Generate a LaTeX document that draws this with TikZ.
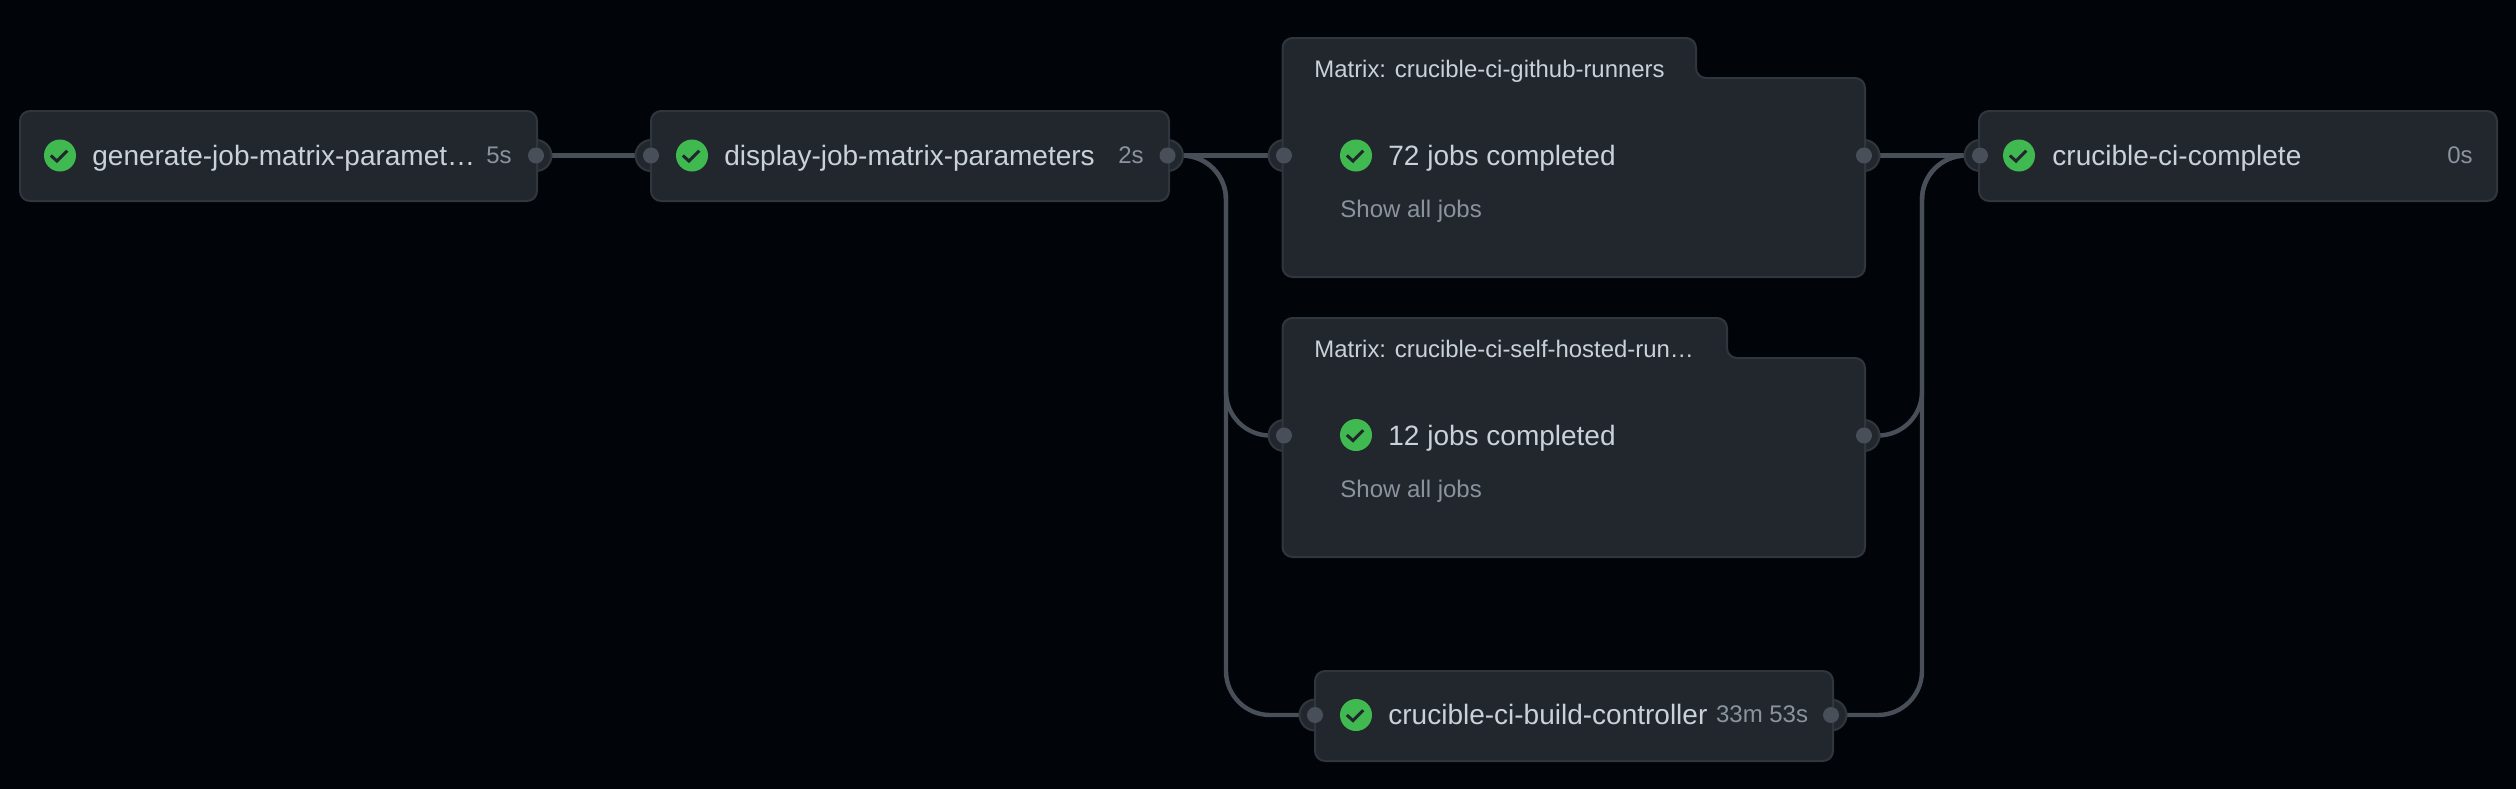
\documentclass[tikz,border=0pt]{standalone}
\usepackage{fontspec}
\setmainfont{Liberation Sans}
\definecolor{pagebg}{HTML}{010409}
\definecolor{cardbg}{HTML}{22272E}
\definecolor{cardline}{HTML}{30363D}
\definecolor{wirecol}{HTML}{484F58}
\definecolor{okgreen}{HTML}{3FB950}
\definecolor{maintext}{HTML}{C9D1D9}
\definecolor{mutedtext}{HTML}{8B949E}
\pgfdeclarelayer{bglayer}
\pgfdeclarelayer{wirelayer}
\pgfsetlayers{bglayer,wirelayer,main}
\tikzset{
  cardbox/.style={draw=cardline,fill=cardbg,line width=1pt,rounded corners=5pt,anchor=north west,inner sep=0pt,minimum height=45pt},
  halo/.style={circle,draw=cardline,fill=cardbg,line width=1pt,inner sep=0pt,minimum size=15.5pt},
  portdot/.style={circle,fill=wirecol,inner sep=0pt,minimum size=8pt},
  wire/.style={draw=wirecol,line width=2.2pt,rounded corners=22pt},
  okicon/.style={circle,fill=okgreen,inner sep=0pt,minimum size=16pt,
    path picture={\draw[cardbg,line width=1.5pt]
      ([shift={(-4.6pt,0pt)}]path picture bounding box.center) --
      ([shift={(-1.5pt,-2.8pt)}]path picture bounding box.center) --
      ([shift={(3.6pt,2.4pt)}]path picture bounding box.center);}},
  jobtext/.style={anchor=base west,inner sep=0pt,text=maintext,font=\fontsize{14}{16}\selectfont},
  matrixtext/.style={anchor=base west,inner sep=0pt,text=maintext,font=\fontsize{11.95}{14}\selectfont},
  durtext/.style={anchor=base east,inner sep=0pt,text=mutedtext,font=\fontsize{12}{14}\selectfont},
  showtext/.style={anchor=base west,inner sep=0pt,text=mutedtext,font=\fontsize{12}{14}\selectfont},
  matrixshape/.style={draw=cardline,fill=cardbg,line width=1pt,rounded corners=5pt},
}
\begin{document}
\begin{tikzpicture}[x=0.5pt,y=-0.5pt]
\useasboundingbox (0,0) rectangle (2516,788);
\begin{pgfonlayer}{bglayer}
  \fill[pagebg] (-8,-8) rectangle (2524,796);
\end{pgfonlayer}
% halos
\foreach \x/\y in {536/155.5,651/155.5,1167.5/155.5,1284/155.5,1864/155.5,1284/435.5,1864/435.5,1315/715,1831/715,1980/155.5}
  {\node[halo] at (\x,\y) {};}
% cards
\node[cardbox,minimum width=258.5pt] (gen) at (19,110) {};
\node[cardbox,minimum width=259pt] (dis) at (650,110) {};
\node[cardbox,minimum width=259pt] (bld) at (1314,670) {};
\node[cardbox,minimum width=259pt] (cpl) at (1978,110) {};
\draw[matrixshape] (1282.5,277) -- (1282.5,38) -- (1696,38) -- (1696,78) -- (1865,78) -- (1865,277) -- cycle;
\draw[matrixshape] (1282.5,557) -- (1282.5,318) -- (1727,318) -- (1727,358) -- (1865,358) -- (1865,557) -- cycle;
% ports
\node[portdot] (genout) at (536,155.5) {};
\node[portdot] (disin) at (651,155.5) {};
\node[portdot] (disout) at (1167.5,155.5) {};
\node[portdot] (mainin) at (1284,155.5) {};
\node[portdot] (mainout) at (1864,155.5) {};
\node[portdot] (selfin) at (1284,435.5) {};
\node[portdot] (selfout) at (1864,435.5) {};
\node[portdot] (bldin) at (1315,715) {};
\node[portdot] (bldout) at (1831,715) {};
\node[portdot] (cplin) at (1980,155.5) {};
\coordinate (busleft) at (1226,400);
\coordinate (busright) at (1922,400);
% connectors
\begin{pgfonlayer}{wirelayer}
  \draw[wire] (genout.center) -- (disin.center);
  \draw[wire] (disout.center) -- (mainin.center);
  \draw[wire] (disout.center) -- (disout -| busleft) -- (busleft |- selfin) -- (selfin.center);
  \draw[wire] (disout.center) -- (disout -| busleft) -- (busleft |- bldin) -- (bldin.center);
  \draw[wire] (mainout.center) -- (cplin.center);
  \draw[wire] (selfout.center) -- (selfout -| busright) -- (busright |- cplin) -- (cplin.center);
  \draw[wire] (bldout.center) -- (bldout -| busright) -- (busright |- cplin) -- (cplin.center);
\end{pgfonlayer}
% icons
\node[okicon] (icgen) at (60,155.5) {};
\node[okicon] (icdis) at (692,155.5) {};
\node[okicon] (icmain) at (1356,155.5) {};
\node[okicon] (icself) at (1356,435) {};
\node[okicon] (icbld) at (1356,715) {};
\node[okicon] (iccpl) at (2019,155.5) {};
% texts
\node[jobtext] (tgen) at (92,165) {generate-job-matrix-paramet…};
\node[durtext] (dgen) at (512,163) {5s};
\node[jobtext] (tdis) at (724,165) {display-job-matrix-parameters};
\node[durtext] (ddis) at (1144,163) {2s};
\node[matrixtext] (tm1) at (1314,77) {Matrix: crucible-ci-github-runners};
\node[jobtext] (tmain) at (1388,165) {72 jobs completed};
\node[showtext] (smain) at (1340,217) {Show all jobs};
\node[matrixtext] (tm2) at (1314,357) {Matrix: crucible-ci-self-hosted-run…};
\node[jobtext] (tself) at (1388,445) {12 jobs completed};
\node[showtext] (sself) at (1340,497) {Show all jobs};
\node[jobtext] (tbld) at (1388,724) {crucible-ci-build-controller};
\node[durtext] (dbld) at (1808.5,722) {33m 53s};
\node[jobtext] (tcpl) at (2052,165) {crucible-ci-complete};
\node[durtext] (dcpl) at (2473,163) {0s};
\end{tikzpicture}
\end{document}
